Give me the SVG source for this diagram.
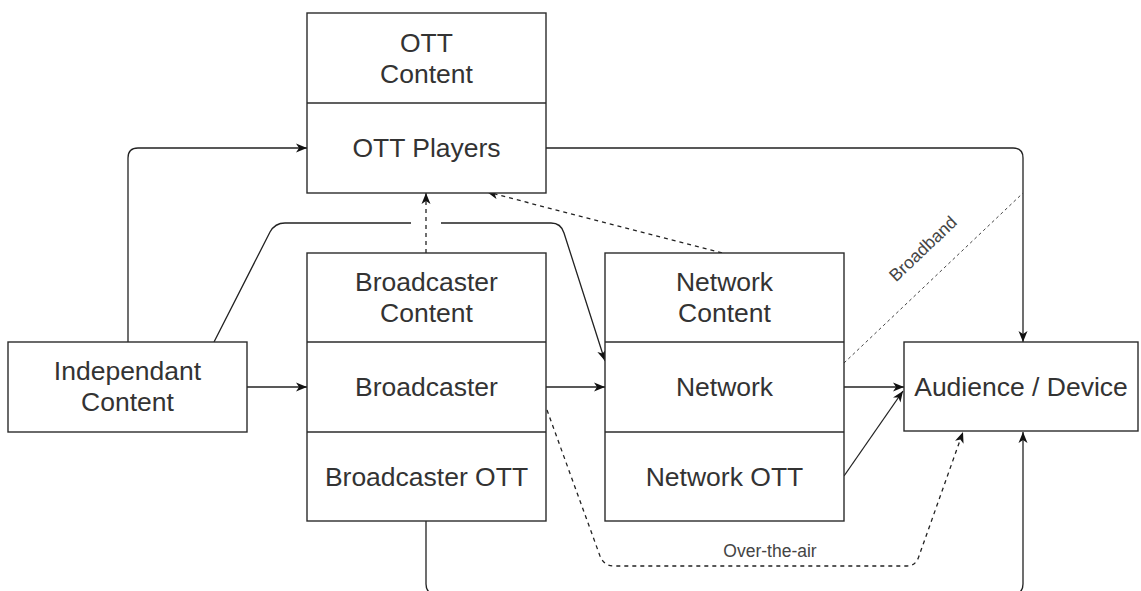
<svg xmlns="http://www.w3.org/2000/svg" width="1141" height="591" viewBox="0 0 1141 591">
  <style>
    .box { fill: #ffffff; stroke: #2b2b2b; stroke-width: 1.4; }
    .div { stroke: #2b2b2b; stroke-width: 1.4; fill: none; }
    .lbl { font-family: "Liberation Sans", Arial, sans-serif; font-size: 26.5px; fill: #333333; text-anchor: middle; }
    .edge { fill: none; stroke: #222222; stroke-width: 1.3; }
    .dash { stroke-dasharray: 4 4; }
    .thin { fill: none; stroke: #444444; stroke-width: 1; stroke-dasharray: 3 3; }
    .elbl { font-family: "Liberation Sans", Arial, sans-serif; font-size: 17.5px; fill: #444444; text-anchor: middle; }
  </style>
  <defs>
    <marker id="arrow" markerUnits="userSpaceOnUse" markerWidth="12" markerHeight="10" viewBox="0 0 12 10" refX="11" refY="5" orient="auto">
      <path d="M0,0.5 L11,5 L0,9.5 L3,5 Z" fill="#111111" stroke="none"/>
    </marker>
  </defs>

  <rect width="1141" height="591" fill="#ffffff"/>

  <!-- connectors -->
  <g id="connectors">
    <path class="edge" d="M128,342 V158 Q128,148 138,148 H307" marker-end="url(#arrow)"/>
    <path class="edge" d="M247,387 H307" marker-end="url(#arrow)"/>
    <path class="edge" d="M214,342 L270,232 Q275,223 285,223 H411 M441,223 H551 Q561,223 564,233 L605,361" marker-end="url(#arrow)"/>
    <path class="edge dash" d="M426,253 V193" marker-end="url(#arrow)"/>
    <path class="edge dash" d="M722,253 L487,192" marker-end="url(#arrow)"/>
    <path class="edge" d="M546,148 H1013 Q1023,148 1023,158 V342" marker-end="url(#arrow)"/>
    <path class="thin" d="M844,363 L1023,193"/>
    <text class="elbl" transform="translate(927,253) rotate(-43.5)" fill="#555555">Broadband</text>
    <path class="edge" d="M546,387 H605" marker-end="url(#arrow)"/>
    <path class="edge" d="M844,387 H904" marker-end="url(#arrow)"/>
    <path class="edge" d="M844,476 L903,391" marker-end="url(#arrow)"/>
    <path class="edge dash" d="M547,410 L600,556 Q604,566 614,566 H907 Q916,566 919,556 L963,432" marker-end="url(#arrow)"/>
    <text class="elbl" x="770" y="557">Over-the-air</text>
    <path class="edge" d="M426,521 V584 Q426,594 436,594 H1013 Q1023,594 1023,584 V432" marker-end="url(#arrow)"/>
  </g>

  <!-- OTT stack -->
  <g id="ott">
    <rect class="box" x="307" y="13" width="239" height="180"/>
    <line class="div" x1="307" y1="103" x2="546" y2="103"/>
    <text class="lbl" x="426.5" y="52">OTT</text>
    <text class="lbl" x="426.5" y="83">Content</text>
    <text class="lbl" x="426.5" y="157">OTT Players</text>
  </g>

  <!-- Broadcaster stack -->
  <g id="broadcaster">
    <rect class="box" x="307" y="253" width="239" height="268"/>
    <line class="div" x1="307" y1="342" x2="546" y2="342"/>
    <line class="div" x1="307" y1="432" x2="546" y2="432"/>
    <text class="lbl" x="426.5" y="291">Broadcaster</text>
    <text class="lbl" x="426.5" y="322">Content</text>
    <text class="lbl" x="426.5" y="396">Broadcaster</text>
    <text class="lbl" x="426.5" y="486">Broadcaster OTT</text>
  </g>

  <!-- Network stack -->
  <g id="network">
    <rect class="box" x="605" y="253" width="239" height="268"/>
    <line class="div" x1="605" y1="342" x2="844" y2="342"/>
    <line class="div" x1="605" y1="432" x2="844" y2="432"/>
    <text class="lbl" x="724.5" y="291">Network</text>
    <text class="lbl" x="724.5" y="322">Content</text>
    <text class="lbl" x="724.5" y="396">Network</text>
    <text class="lbl" x="724.5" y="486">Network OTT</text>
  </g>

  <!-- Independant content source -->
  <g id="independant">
    <rect class="box" x="8" y="342" width="239" height="90"/>
    <text class="lbl" x="127.5" y="380">Independant</text>
    <text class="lbl" x="127.5" y="411">Content</text>
  </g>

  <!-- Audience / device -->
  <g id="audience">
    <rect class="box" x="904" y="342" width="234" height="89"/>
    <text class="lbl" x="1021" y="396">Audience / Device</text>
  </g>
</svg>
